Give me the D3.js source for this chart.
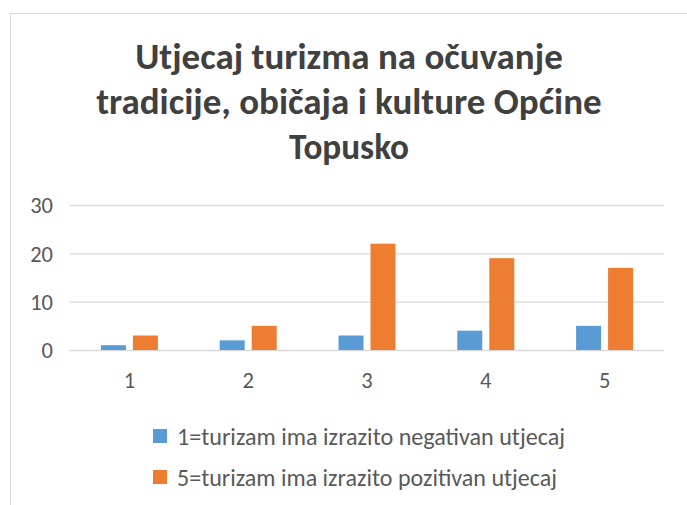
<!DOCTYPE html>
<html><head><meta charset="utf-8">
<script src="https://cdn.jsdelivr.net/npm/d3@7"></script>
<style>
html,body{margin:0;padding:0;background:#fff;}
svg{display:block;font-family:Carlito,"Open Sans",sans-serif;}
</style></head>
<body>
<svg id="c" width="687" height="505"></svg>
<script>
const categories = ["1","2","3","4","5"];
const seriesNames = ["1=turizam ima izrazito negativan utjecaj","5=turizam ima izrazito pozitivan utjecaj"];
const negativeValues = [1,2,3,4,5];
const positiveValues = [3,5,22,19,17];
const yTicks = [0,10,20,30];
const titleLines = ["Utjecaj turizma na očuvanje","tradicije, običaja i kulture Općine","Topusko"];
const colors = ["#5B9BD5","#ED7D31"];

const FONT = 'Carlito,"Open Sans",sans-serif';
function fit(el, target){
  const w = el.node().getComputedTextLength();
  if (Math.abs(w-target) > target*0.02) el.attr("textLength",target).attr("lengthAdjust","spacingAndGlyphs");
  return w;
}

const svg = d3.select("#c");
svg.append("rect").attr("x",10.5).attr("y",13.5).attr("width",700).attr("height",520)
  .attr("fill","#fff").attr("stroke","#D9D9D9").attr("stroke-width",1);

const titleWidths = [426, 505, 120];
const tg = svg.append("g");
titleLines.forEach((t,i)=>{
  const el = tg.append("text").attr("x",349).attr("y",69+i*45)
    .attr("text-anchor","middle").attr("font-size",37).attr("font-weight","bold")
    .attr("fill","#404040").text(t);
  fit(el, titleWidths[i]);
});

const x0 = d3.scaleBand().domain(categories).range([70,664]).paddingInner(0).paddingOuter(0);
const bw = 25, gap = 7;
const x1 = d3.scaleOrdinal().domain([0,1]).range([-(bw+gap/2), gap/2]);
const y = d3.scaleLinear().domain([0,30]).range([350,205]);

const yAxis = d3.axisLeft(y).tickValues(yTicks).tickSize(-(664-70)).tickPadding(17);
const ga = svg.append("g").attr("transform","translate(70,0)").call(yAxis);
ga.select(".domain").remove();
ga.selectAll(".tick line").attr("stroke","#D9D9D9").attr("stroke-width",1.3);
ga.selectAll(".tick text").attr("font-size",22.5).attr("fill","#595959")
  .attr("font-family",FONT).attr("dy","0.35em");

const xAxis = d3.axisBottom(x0).tickSize(0).tickPadding(22);
const gx = svg.append("g").attr("transform","translate(0,350)").call(xAxis);
gx.select(".domain").remove();
gx.selectAll(".tick text").attr("font-size",22.5).attr("fill","#595959")
  .attr("font-family",FONT);

const series = [negativeValues, positiveValues];
series.forEach((vals,si)=>{
  svg.append("g").selectAll("rect").data(vals).join("rect")
    .attr("x",(d,i)=>x0(categories[i])+x0.bandwidth()/2 + x1(si))
    .attr("width",bw)
    .attr("y",d=>y(d))
    .attr("height",d=>y(0)-y(d))
    .attr("fill",colors[si]);
});

const lg = svg.append("g");
const legWidths = [388, 380];
seriesNames.forEach((n,i)=>{
  const yy = 429 + i*41;
  lg.append("rect").attr("x",153).attr("y",yy).attr("width",14).attr("height",14).attr("fill",colors[i]);
  const t = lg.append("text").attr("x",177).attr("y",yy+15.5).attr("font-size",23.5)
    .attr("fill","#595959").text(n);
  fit(t, legWidths[i]);
});
</script>
</body></html>
